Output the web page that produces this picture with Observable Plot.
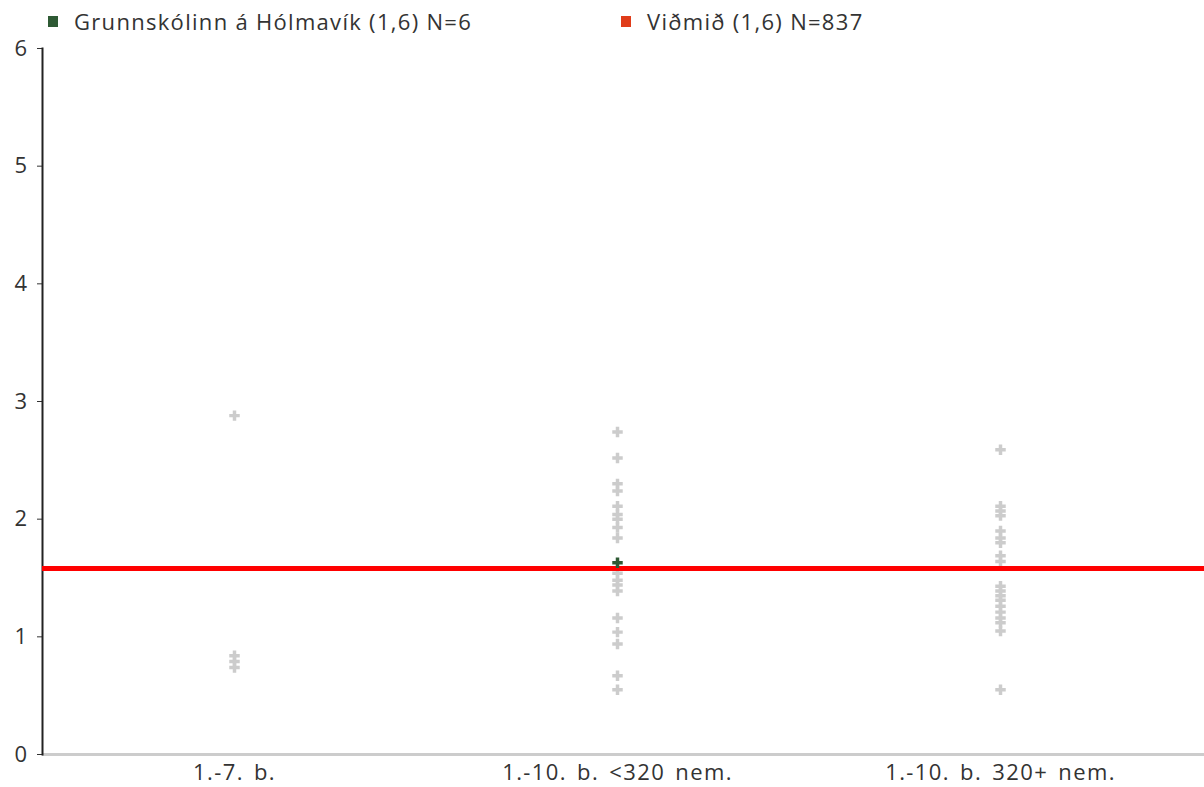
<!DOCTYPE html>
<html>
<head>
<meta charset="utf-8">
<script src="https://cdn.jsdelivr.net/npm/d3@7"></script>
<script src="https://cdn.jsdelivr.net/npm/@observablehq/plot@0.6"></script>
<style>
  body { margin: 0; background: #fff; font-family: "Open Sans", Lato, sans-serif; }
  #legend { position: relative; height: 30px; font-size: 22px; color: #333; letter-spacing: 1.3px; }
  .item { position: absolute; top: 7px; display: flex; align-items: center; white-space: nowrap; line-height: 28px; }
  .sw { width: 10px; height: 11px; margin-right: 16px; display: inline-block; }
  svg { display: block; overflow: visible; }
  #chart text { letter-spacing: 1.4px; word-spacing: 3px; }
</style>
</head>
<body>
<div id="legend"></div>
<div id="chart"></div>
<script>
const categories = ["1.-7. b.", "1.-10. b. <320 nem.", "1.-10. b. 320+ nem."];
const group1Values = [2.88, 0.84, 0.79, 0.74];
const group2Values = [2.74, 2.52, 2.30, 2.24, 2.11, 2.04, 2.00, 1.93, 1.84, 1.54, 1.48, 1.44, 1.39, 1.16, 1.04, 0.94, 0.67, 0.55];
const group3Values = [2.59, 2.11, 2.07, 2.03, 1.90, 1.84, 1.80, 1.69, 1.64, 1.43, 1.39, 1.35, 1.31, 1.26, 1.21, 1.16, 1.12, 1.05, 0.55];
const schoolCategory = "1.-10. b. <320 nem.";
const schoolValue = 1.63;
const benchmarkValue = 1.58;
const legendLabels = ["Grunnskólinn á Hólmavík (1,6) N=6", "Viðmið (1,6) N=837"];
const legendColors = ["#2e5a34", "#e03c1a"];
const yTicks = [0, 1, 2, 3, 4, 5, 6];

const legend = document.getElementById("legend");
const legendX = [48, 621];
legendLabels.forEach((t, i) => {
  const d = document.createElement("div");
  d.className = "item";
  d.style.left = legendX[i] + "px";
  d.innerHTML = `<span class="sw" style="background:${legendColors[i]}"></span><span>${t}</span>`;
  legend.appendChild(d);
});

const groups = [group1Values, group2Values, group3Values];
const points = groups.flatMap((vals, i) => vals.map(v => ({cat: categories[i], v})));

const chart = Plot.plot({
  width: 1204,
  height: 757,
  marginLeft: 42,
  marginRight: 0,
  marginTop: 18,
  marginBottom: 33,
  style: {fontFamily: "'Open Sans', Lato, sans-serif", fontSize: "22px", color: "#333", overflow: "visible"},
  x: {domain: categories, range: [42, 1192], label: null, tickSize: 0, tickPadding: 10},
  y: {domain: [0, 6], ticks: yTicks, label: null, tickSize: 5, tickPadding: 9, tickFormat: d => String(d)},
  marks: [
    Plot.dot(points, {x: "cat", y: "v", symbol: "cross", r: 4.4, fill: "#cccccc", stroke: null}),
    Plot.ruleY([0], {stroke: "#cccccc", strokeWidth: 3}),
    Plot.frame({anchor: "left", stroke: "#222", strokeWidth: 2}),
    Plot.ruleY([benchmarkValue], {stroke: "#ff0000", strokeWidth: 5}),
    Plot.dot([{cat: schoolCategory, v: schoolValue}], {x: "cat", y: "v", symbol: "cross", r: 4.4, fill: "#2e5a34", stroke: null})
  ]
});
document.getElementById("chart").appendChild(chart);
</script>
</body>
</html>
